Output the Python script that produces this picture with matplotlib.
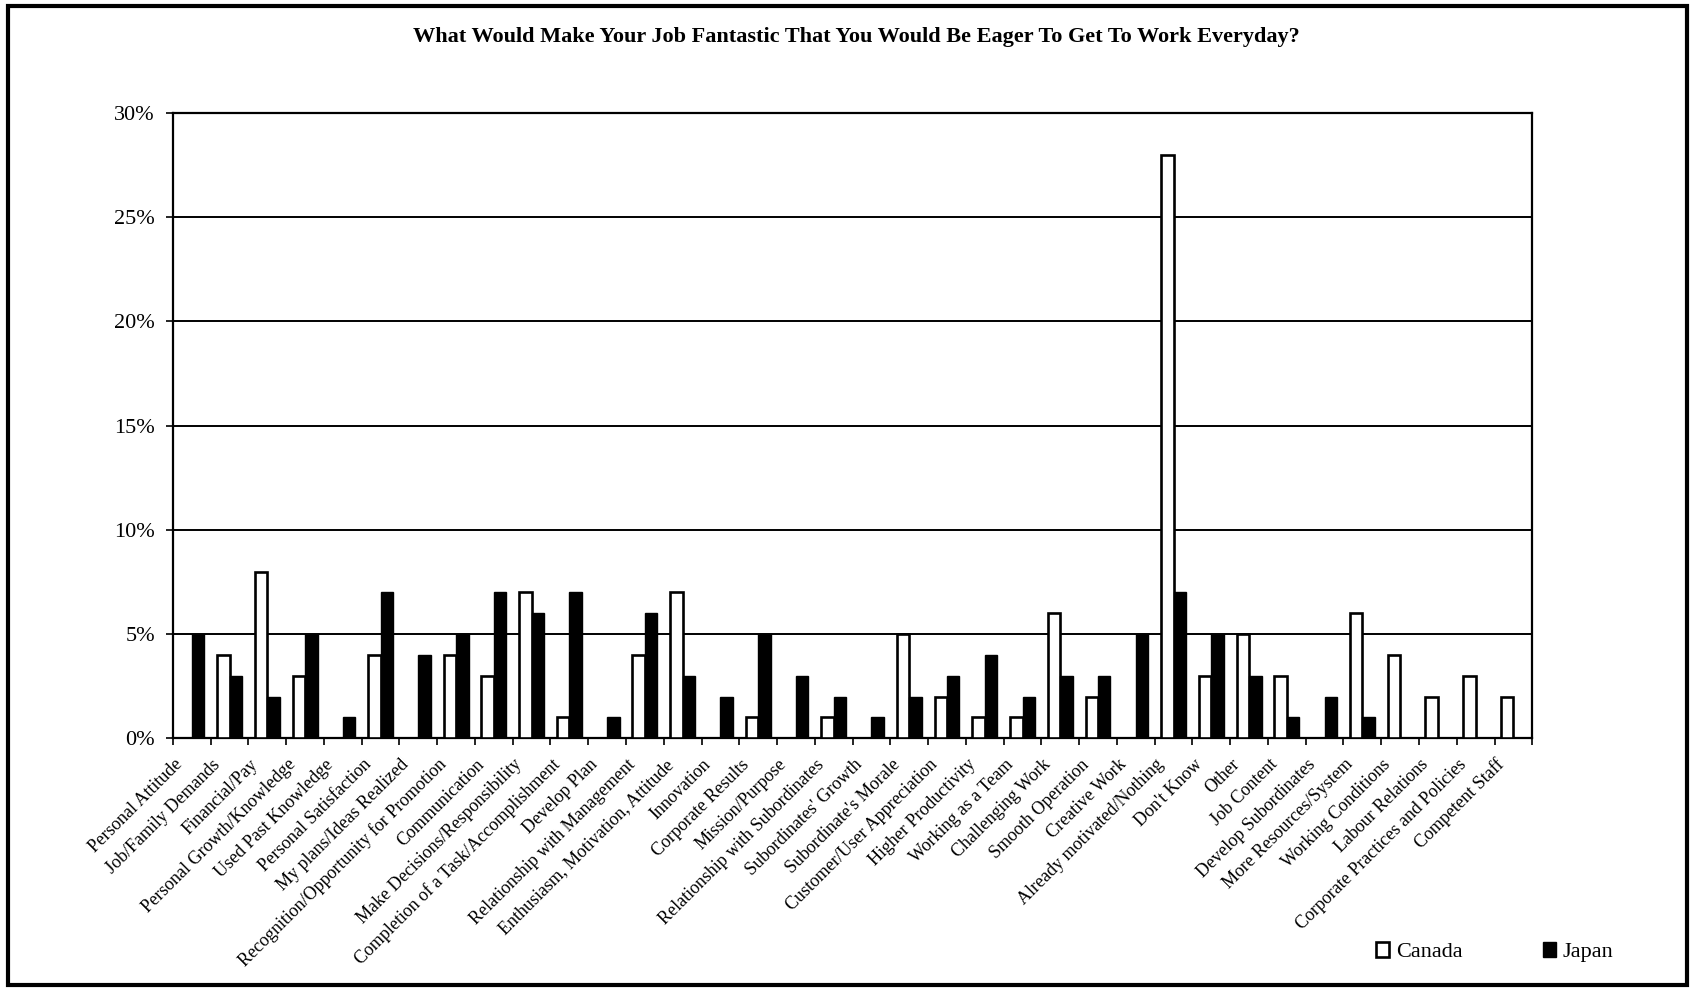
# =================
# IMPORTY
# =================
import matplotlib
matplotlib.use("Agg")
import matplotlib.pyplot as plt
import matplotlib.transforms as mtransforms
from matplotlib.patches import Rectangle
from matplotlib.ticker import FuncFormatter, MultipleLocator
import numpy as np


# =================
# DANE
# =================
kategorie = [
    "Personal Attitude", "Job/Family Demands", "Financial/Pay",
    "Personal Growth/Knowledge", "Used Past Knowledge", "Personal Satisfaction",
    "My plans/Ideas Realized", "Recognition/Opportunity for Promotion",
    "Communication", "Make Decisions/Responsibility",
    "Completion of a Task/Accomplishment", "Develop Plan",
    "Relationship with Management", "Enthusiasm, Motivation, Attitude",
    "Innovation", "Corporate Results", "Mission/Purpose",
    "Relationship with Subordinates", "Subordinates' Growth",
    "Subordinate's Morale", "Customer/User Appreciation", "Higher Productivity",
    "Working as a Team", "Challenging Work", "Smooth Operation", "Creative Work",
    "Already motivated/Nothing", "Don't Know", "Other", "Job Content",
    "Develop Subordinates", "More Resources/System", "Working Conditions",
    "Labour Relations", "Corporate Practices and Policies", "Competent Staff",
]

canada = [0, 4, 8, 3, 0, 4, 0, 4, 3, 7, 1, 0, 4, 7, 0, 1, 0, 1, 0, 5,
          2, 1, 1, 6, 2, 0, 28, 3, 5, 3, 0, 6, 4, 2, 3, 2]
japan = [5, 3, 2, 5, 1, 7, 4, 5, 7, 6, 7, 1, 6, 3, 2, 5, 3, 2, 1, 2,
         3, 4, 2, 3, 3, 5, 7, 5, 3, 1, 2, 1, 0, 0, 0, 0]

tytul = "What Would Make Your Job Fantastic That You Would Be Eager To Get To Work Everyday?"


# =================
# WYKRES
# =================
plt.rcParams["font.family"] = ["Liberation Serif", "DejaVu Serif"]

fig = plt.figure(figsize=(16.95, 9.91), dpi=100)
ax = fig.add_axes([0.102, 0.255, 0.802, 0.631])

x = np.arange(len(kategorie))
w = 0.33

ax.bar(x - w / 2, canada, w, color="white", edgecolor="black", linewidth=1.9,
       label="Canada", zorder=3)
ax.bar(x + w / 2, japan, w, color="black", edgecolor="black", linewidth=1.0,
       label="Japan", zorder=3)

ax.set_xlim(-0.5, len(kategorie) - 0.5)
ax.set_ylim(0, 30)
ax.yaxis.set_major_locator(MultipleLocator(5))
ax.yaxis.set_major_formatter(FuncFormatter(lambda v, p: f"{int(v)}%"))
ax.grid(True, axis="y", color="black", linewidth=1.4, zorder=0)

for s in ax.spines.values():
    s.set_linewidth(1.6)

# ticki miedzy kategoriami, etykiety osobno
ax.set_xticks(np.arange(len(kategorie) + 1) - 0.5)
ax.set_xticklabels([])
ax.set_xticks(x, minor=True)
ax.set_xticklabels(kategorie, minor=True, rotation=45, ha="right", va="center",
                   rotation_mode="anchor", fontsize=13)
ax.tick_params(axis="x", which="minor", length=0, pad=2)
ax.tick_params(axis="x", which="major", length=5, width=1.2, direction="out")
ax.tick_params(axis="y", length=5, width=1.2, pad=8, labelsize=16)

przes = mtransforms.ScaledTranslation(-0.12, -0.21, fig.dpi_scale_trans)
for lab in ax.get_xticklabels(minor=True):
    lab.set_transform(lab.get_transform() + przes)

fig.text(0.505, 0.963, tytul, ha="center", va="center", fontsize=16,
         fontweight="bold")

fig.legend(loc="center left", bbox_to_anchor=(0.800, 0.039), ncol=2, frameon=False,
           fontsize=16, handlelength=0.6, handleheight=0.6, handletextpad=0.3,
           columnspacing=3.6)

# ramka dookola
fig.patches.append(Rectangle((0.005, 0.006), 0.99, 0.988, transform=fig.transFigure,
                             fill=False, edgecolor="black", linewidth=3))

fig.savefig("out.png", dpi=100)
